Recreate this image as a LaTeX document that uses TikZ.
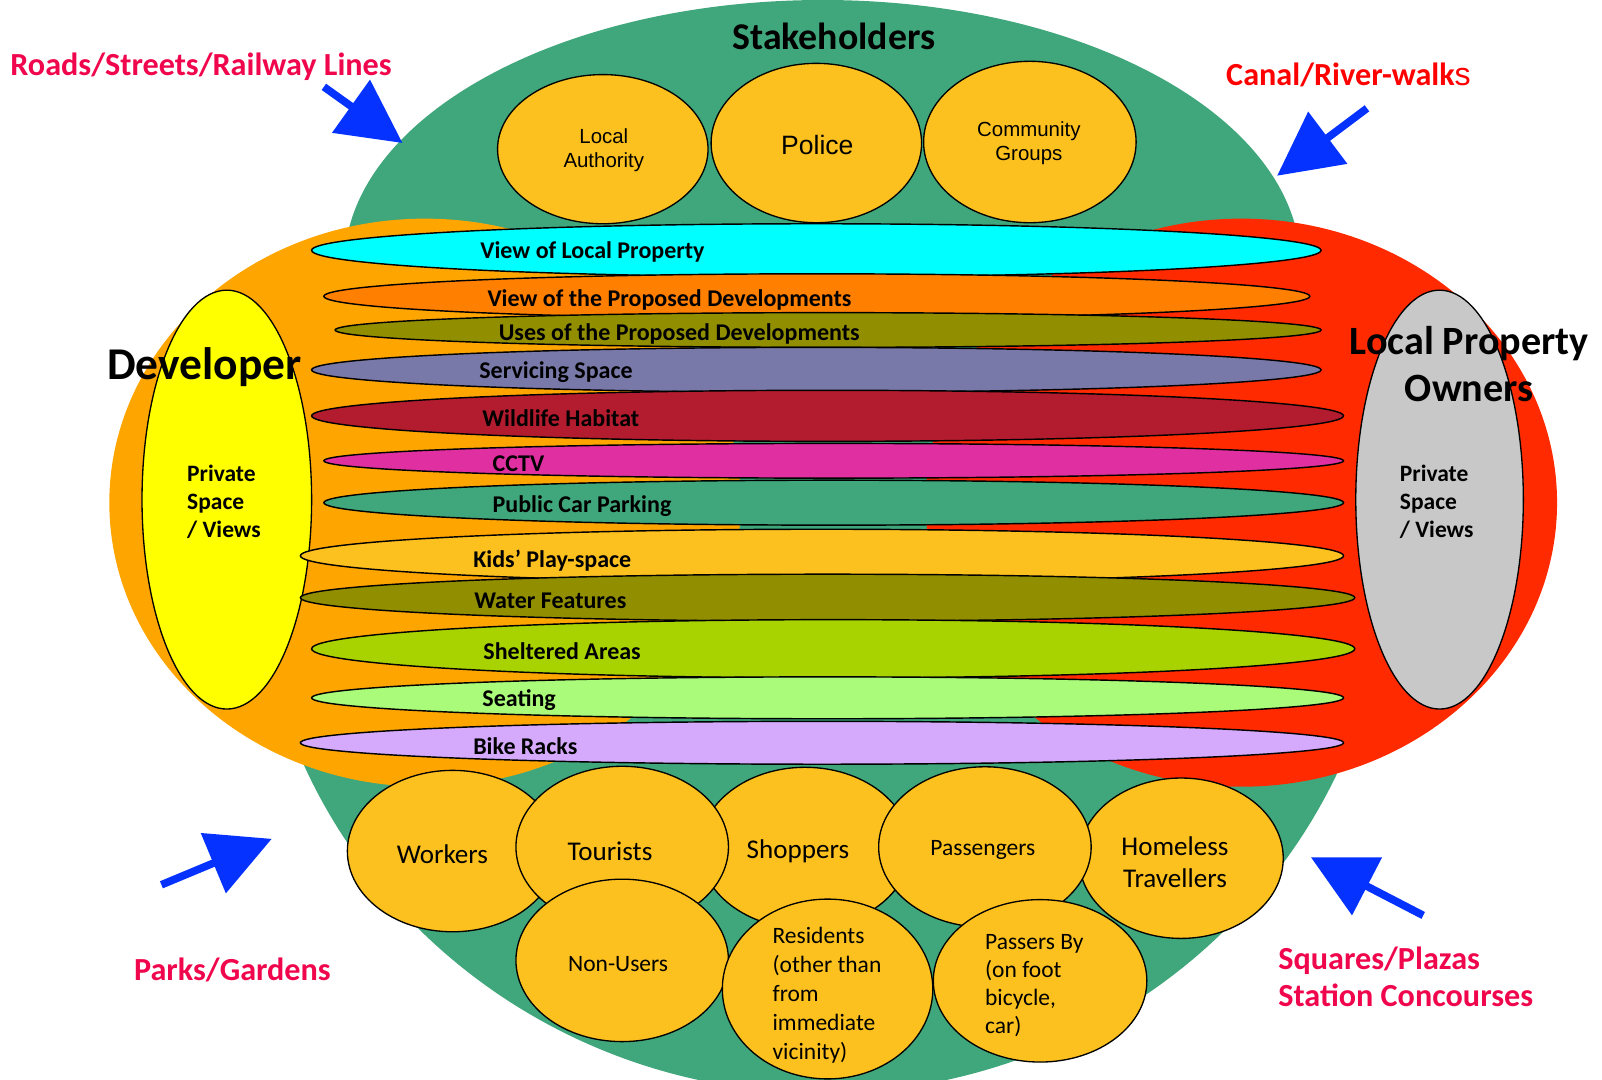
\documentclass[tikz,border=0pt]{standalone}
\usepackage{fontspec}
\setmainfont{Carlito}
\newfontfamily\arialf{Liberation Sans}
\usetikzlibrary{shapes.geometric,arrows.meta}
\definecolor{stakegreen}{HTML}{3FA77B}
\definecolor{devorange}{HTML}{FFA500}
\definecolor{ownred}{HTML}{FF2A00}
\definecolor{gold}{HTML}{FDC11F}
\definecolor{privyellow}{HTML}{FFFF00}
\definecolor{privgrey}{HTML}{C8C8C8}
\definecolor{bcyan}{HTML}{00FFFF}
\definecolor{borange}{HTML}{FF7F00}
\definecolor{bolive}{HTML}{918F00}
\definecolor{bserv}{HTML}{7979A9}
\definecolor{bwild}{HTML}{B31B2E}
\definecolor{bcctv}{HTML}{E02FA0}
\definecolor{bshelter}{HTML}{A8D300}
\definecolor{bseat}{HTML}{A9FB79}
\definecolor{bbike}{HTML}{D5AAFC}
\definecolor{arrblue}{HTML}{0532FF}
\definecolor{lblcrimson}{HTML}{F0064C}
\definecolor{lblred}{HTML}{FF0000}
\begin{document}
\begin{tikzpicture}[x=1pt,y=-1pt,
  blob/.style={ellipse, inner sep=0pt, outer sep=0pt},
  band/.style={ellipse, draw=black, line width=1.4pt, inner sep=0pt, outer sep=0pt},
  bandtxt/.style={anchor=west, inner sep=0pt, font=\bfseries\fontsize{23.5}{28}\selectfont},
  person/.style={ellipse, draw=black, fill=gold, line width=1.3pt, inner sep=0pt, outer sep=0pt, minimum width=206pt, minimum height=158pt},
  ptxt/.style={inner sep=0pt, font=\fontsize{23}{28.3}\selectfont},
  bigptxt/.style={inner sep=0pt, font=\fontsize{26.5}{31}\selectfont},
  stxt/.style={inner sep=0pt, font=\arialf\fontsize{20}{24}\selectfont, align=center},
  privtxt/.style={inner sep=0pt, anchor=west, align=left, font=\bfseries\fontsize{23}{27.5}\selectfont},
  headtxt/.style={inner sep=0pt, font=\bfseries\fontsize{39.3}{46}\selectfont},
  bluearrow/.style={draw=arrblue, line width=7.5pt, -{Triangle[length=62pt,width=62pt]}},
  lbl/.style={inner sep=0pt, anchor=west, align=left, font=\bfseries\fontsize{31.5}{36}\selectfont, text=lblcrimson},
]
\useasboundingbox (0,0) rectangle (1568,1057);
\clip (0,0) rectangle (1568,1057);

% big regions
\fill[stakegreen] (337,260) arc[start angle=180, end angle=360, x radius=468, y radius=260]
  -- (1360,530) arc[start angle=0, end angle=180, x radius=555, y radius=540] -- cycle;
\node[blob, fill=devorange, minimum width=618pt, minimum height=556pt] (dev) at (416,492) {};
\node[blob, fill=ownred, minimum width=618pt, minimum height=556pt] (own) at (1215,492) {};
\node[ellipse, draw=black, line width=1.3pt, fill=privyellow, inner sep=0pt, minimum width=166pt, minimum height=410pt] (devpriv) at (222,489) {};
\node[ellipse, draw=black, line width=1.3pt, fill=privgrey, inner sep=0pt, minimum width=164pt, minimum height=410pt] (ownpriv) at (1409,489) {};

% bands
\node[band, fill=bcyan, minimum width=988pt, minimum height=52pt] (b1) at (799,245) {};
\node[band, fill=borange, minimum width=965pt, minimum height=44pt] (b2) at (799.5,290) {};
\node[band, fill=bolive, minimum width=965pt, minimum height=34pt] (b3) at (810.5,323) {};
\node[band, fill=bserv, minimum width=988pt, minimum height=44pt] (b4) at (799,362) {};
\node[band, fill=bwild, minimum width=1010pt, minimum height=50pt] (b5) at (810,407) {};
\node[band, fill=bcctv, minimum width=998pt, minimum height=34pt] (b6) at (816,451) {};
\node[band, fill=stakegreen, minimum width=998pt, minimum height=44pt] (b7) at (816,492) {};
\node[band, fill=gold, minimum width=1021pt, minimum height=52pt] (b8) at (804.5,544) {};
\node[band, fill=bolive, minimum width=1032pt, minimum height=46pt] (b9) at (810,585) {};
\node[band, fill=bshelter, minimum width=1021pt, minimum height=57pt] (b10) at (815.5,635) {};
\node[band, fill=bseat, minimum width=1010pt, minimum height=41pt] (b11) at (810,683) {};
\node[band, fill=bbike, minimum width=1021pt, minimum height=42pt] (b12) at (804.5,727) {};

\node[bandtxt] (t1) at (470,246.5) {View of Local Property};
\node[bandtxt] (t2) at (477,293.5) {View of the Proposed Developments};
\node[bandtxt] (t3) at (488,326.5) {Uses of the Proposed Developments};
\node[bandtxt] (t4) at (469,364.5) {Servicing Space};
\node[bandtxt] (t5) at (472,409.5) {Wildlife Habitat};
\node[bandtxt] (t6) at (482,453.5) {CCTV};
\node[bandtxt] (t7) at (482,495.5) {Public Car Parking};
\node[bandtxt] (t8) at (463,548.5) {Kids’ Play-space};
\node[bandtxt] (t9) at (464,588.5) {Water Features};
\node[bandtxt] (t10) at (473,637.5) {Sheltered Areas};
\node[bandtxt] (t11) at (472,685.5) {Seating};
\node[bandtxt] (t12) at (463,730.5) {Bike Racks};

% stakeholders
\node[person, minimum width=206pt, minimum height=146pt] (la) at (590,146) {};
\node[person, minimum width=206pt, minimum height=156pt] (police) at (799,140) {};
\node[person, minimum width=208pt, minimum height=158pt] (comm) at (1008,139) {};
\node[stxt] (lat) at (591,147) {Local\\Authority};
\node[stxt, font=\arialf\fontsize{26}{30}\selectfont] (polt) at (800,142) {Police};
\node[stxt] (commt) at (1007,140) {Community\\Groups};
\node[headtxt, font=\bfseries\fontsize{37}{44}\selectfont] (staket) at (816,36) {Stakeholders};

% users
\node[person] (workers) at (443,833) {};
\node[person] (shoppers) at (788,830) {};
\node[person, minimum width=208pt] (tourists) at (609,829) {};
\node[person, minimum width=200pt, minimum height=157pt] (homeless) at (1156,840) {};
\node[person, minimum width=208pt, minimum height=157pt] (passengers) at (964,829) {};
\node[person, minimum width=208pt, minimum height=159pt] (nonusers) at (609,940) {};
\node[person, minimum width=206pt, minimum height=176pt] (residents) at (810,968) {};
\node[person, minimum width=209pt, minimum height=159pt] (passers) at (1018,960) {};

\node[bigptxt] (workerst) at (433,836) {Workers};
\node[bigptxt] (touristst) at (597,833) {Tourists};
\node[bigptxt] (shopperst) at (781,833) {Shoppers};
\node[ptxt] (passengerst) at (962,832) {Passengers};
\node[bigptxt, align=center] (homelesst) at (1150,844) {Homeless\\Travellers};
\node[ptxt] (nonuserst) at (605,944) {Non-Users};
\node[ptxt, anchor=west, align=left] (residentst) at (756,974) {Residents\\(other than\\from\\immediate\\vicinity)};
\node[ptxt, anchor=west, align=left, font=\fontsize{23}{27.5}\selectfont] (passerst) at (964,965) {Passers By\\(on foot\\bicycle,\\car)};

% developer / owners
\node[privtxt] (devprivt) at (183,491) {Private\\Space\\/ Views};
\node[privtxt] (ownprivt) at (1370,491) {Private\\Space\\/ Views};
\node[headtxt, font=\bfseries\fontsize{44.5}{50}\selectfont] (devt) at (200,359) {Developer};
\node[headtxt, align=center] (ownt) at (1438,356) {Local Property\\Owners};

% arrows
\coordinate (a1s) at (317,85);   \coordinate (a1t) at (394,140);
\coordinate (a2s) at (1338,106); \coordinate (a2t) at (1250,172);
\coordinate (a3s) at (158,866);  \coordinate (a3t) at (266,821);
\coordinate (a4s) at (1393,896); \coordinate (a4t) at (1283,839);
\draw[bluearrow] (a1s) -- (a1t);
\draw[bluearrow] (a2s) -- (a2t);
\draw[bluearrow] (a3s) -- (a3t);
\draw[bluearrow] (a4s) -- (a4t);

% labels
\node[lbl] (roads) at (10,65) {Roads/Streets/Railway Lines};
\node[lbl, text=lblred] (canal) at (1200,73) {Canal/River-walk{\arialf\mdseries s}};
\node[lbl] (parks) at (131,949) {Parks/Gardens};
\node[lbl] (squares) at (1251,956) {Squares/Plazas\\Station Concourses};
\end{tikzpicture}
\end{document}
